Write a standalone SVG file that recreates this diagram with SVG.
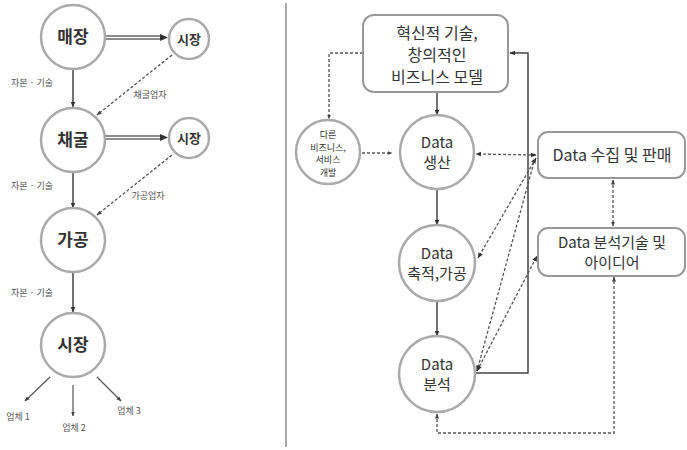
<svg xmlns="http://www.w3.org/2000/svg" width="687" height="450" viewBox="0 0 687 450">
<defs>
<marker id="ah" viewBox="0 0 10 10" refX="9" refY="5" markerWidth="6" markerHeight="6" orient="auto-start-reverse" markerUnits="userSpaceOnUse"><path d="M0,1 L10,5 L0,9 Z" fill="#333"/></marker>
<marker id="ahs" viewBox="0 0 10 10" refX="9" refY="5" markerWidth="5" markerHeight="5" orient="auto-start-reverse" markerUnits="userSpaceOnUse"><path d="M0,1 L10,5 L0,9 Z" fill="#444"/></marker>
</defs>
<style>
text{font-family:"Noto Sans CJK KR","Noto Sans",sans-serif;fill:#333;text-anchor:middle}
.c{fill:#fff;stroke:#aaa;stroke-width:2.5}
.b{fill:#fff;stroke:#999;stroke-width:2}
.big{font-size:17px;font-weight:bold}
.sm{font-size:13px;font-weight:bold}
.lb{font-size:9px;fill:#555}
.rt{font-size:16px}
.rc{font-size:15px}
.tiny{font-size:9px}
.solid{fill:none;stroke:#444;stroke-width:1.5}
.dash{fill:none;stroke:#555;stroke-width:1.3;stroke-dasharray:3,2}
.thin{fill:none;stroke:#555;stroke-width:1.2}
</style>
<rect width="687" height="450" fill="#fff"/>
<line x1="286" y1="3" x2="286" y2="447" stroke="#aaa" stroke-width="2"/>
<g id="connectors">
<line x1="105" y1="36" x2="162" y2="36" stroke="#666" stroke-width="1.3"/>
<line x1="105" y1="39" x2="162" y2="39" stroke="#666" stroke-width="1.3"/>
<path d="M160,34 L168,37.5 L160,41 Z" fill="#333"/>
<line x1="105" y1="136" x2="162" y2="136" stroke="#666" stroke-width="1.3"/>
<line x1="105" y1="139" x2="162" y2="139" stroke="#666" stroke-width="1.3"/>
<path d="M160,134 L168,137.5 L160,141 Z" fill="#333"/>
<line class="solid" x1="73" y1="69" x2="73" y2="107" marker-end="url(#ah)"/>
<line class="solid" x1="73" y1="172" x2="73" y2="208" marker-end="url(#ah)"/>
<line class="solid" x1="73" y1="272" x2="73" y2="312" marker-end="url(#ah)"/>
<line class="dash" x1="172" y1="55" x2="97" y2="115" marker-end="url(#ahs)"/>
<line class="dash" x1="172" y1="155" x2="97" y2="215" marker-end="url(#ahs)"/>
<line class="thin" x1="50" y1="377" x2="25" y2="401" marker-end="url(#ahs)"/>
<line class="thin" x1="73" y1="385" x2="73" y2="416" marker-end="url(#ahs)"/>
<line class="thin" x1="97" y1="377" x2="121" y2="401" marker-end="url(#ahs)"/>
<line class="solid" x1="437" y1="92" x2="437" y2="115" marker-end="url(#ah)"/>
<line class="solid" x1="437" y1="189" x2="437" y2="225" marker-end="url(#ah)"/>
<line class="solid" x1="437" y1="301" x2="437" y2="336" marker-end="url(#ah)"/>
<path class="solid" d="M476,373 L528,373 L528,53 L510,53" marker-end="url(#ah)"/>
<path class="dash" d="M363,53 L329,53 L329,119" marker-end="url(#ahs)"/>
<line class="dash" x1="362" y1="153" x2="392" y2="153" marker-end="url(#ahs)"/>
<line class="dash" x1="536" y1="155" x2="476" y2="154" marker-start="url(#ah)" marker-end="url(#ah)"/>
<line class="dash" x1="536" y1="158" x2="478" y2="258" marker-start="url(#ah)" marker-end="url(#ah)"/>
<line class="dash" x1="534" y1="162" x2="477" y2="371" marker-end="url(#ah)"/>
<line class="dash" x1="477" y1="371" x2="537" y2="256" marker-start="url(#ah)" marker-end="url(#ah)"/>
<line class="dash" x1="613" y1="180" x2="613" y2="226" marker-start="url(#ahs)" marker-end="url(#ahs)"/>
<path class="dash" d="M437,414 L437,433 L614,433 L614,277" marker-start="url(#ahs)" marker-end="url(#ahs)"/>
</g>
<g id="n-maejang"><circle class="c" cx="73" cy="37" r="32"/><text class="big" x="73" y="43">매장</text></g>
<g id="n-sijang1"><circle class="c" cx="189" cy="39" r="20"/><text class="sm" x="189" y="44">시장</text></g>
<g id="n-chaegul"><circle class="c" cx="73" cy="140" r="32"/><text class="big" x="73" y="146">채굴</text></g>
<g id="n-sijang2"><circle class="c" cx="189" cy="138" r="20"/><text class="sm" x="189" y="143">시장</text></g>
<g id="n-gagong"><circle class="c" cx="73" cy="240" r="32"/><text class="big" x="73" y="246">가공</text></g>
<g id="n-sijang3"><circle class="c" cx="73" cy="345" r="32"/><text class="big" x="73" y="351">시장</text></g>
<g id="labels-left">
<text class="lb" x="32" y="86">자본 · 기술</text>
<text class="lb" x="32" y="189">자본 · 기술</text>
<text class="lb" x="32" y="296">자본 · 기술</text>
<text class="lb" x="150" y="98">채굴업자</text>
<text class="lb" x="148" y="199">가공업자</text>
<text class="lb" x="18" y="420">업체 1</text>
<text class="lb" x="74" y="431">업체 2</text>
<text class="lb" x="129" y="414">업체 3</text>
</g>
<g id="n-innov"><rect class="b" x="363" y="15" width="145" height="77" rx="11"/>
<text class="rt" x="437" y="39">혁신적 기술,</text><text class="rt" x="437" y="61">창의적인</text><text class="rt" x="437" y="83">비즈니스 모델</text></g>
<g id="n-other"><circle class="c" cx="328" cy="152" r="32"/>
<text class="tiny" x="328" y="138">다른</text><text class="tiny" x="328" y="150.5">비즈니스,</text><text class="tiny" x="328" y="163">서비스</text><text class="tiny" x="328" y="175.5">개발</text></g>
<g id="n-prod"><circle class="c" cx="437" cy="152" r="37"/><text class="rc" x="437" y="148">Data</text><text class="rc" x="437" y="168">생산</text></g>
<g id="n-accum"><circle class="c" cx="437" cy="263" r="38"/><text class="rc" x="437" y="259">Data</text><text class="rc" x="437" y="279">축적,가공</text></g>
<g id="n-anal"><circle class="c" cx="437" cy="374" r="38"/><text class="rc" x="437" y="370">Data</text><text class="rc" x="437" y="390">분석</text></g>
<g id="n-collect"><rect class="b" x="538" y="132" width="147" height="46" rx="10"/><text class="rt" x="612" y="161">Data 수집 및 판매</text></g>
<g id="n-tech"><rect class="b" x="538" y="228" width="147" height="48" rx="10"/><text class="rc" x="612" y="248">Data 분석기술 및</text><text class="rc" x="612" y="268">아이디어</text></g>
</svg>
